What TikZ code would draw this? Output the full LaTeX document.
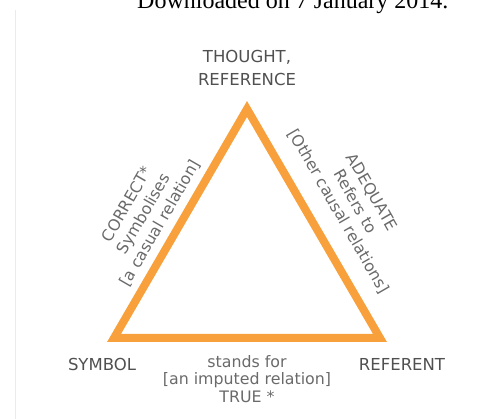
\documentclass[tikz,border=0pt]{standalone}
\usepackage{fontspec}
\setmainfont{DejaVu Sans}
\newfontfamily\seriffont{Liberation Serif}
\definecolor{tri}{RGB}{247,160,60}
\definecolor{txt}{RGB}{80,80,80}
\begin{document}
\begin{tikzpicture}[x=1pt,y=-1pt,
  lbl/.style={text=txt, font=\fontsize{16.5}{23}\selectfont, inner sep=0pt, align=center},
  side/.style={text=txt!85, font=\fontsize{15.8}{17.5}\selectfont, inner sep=0pt, align=center}]
\useasboundingbox (0,0) rectangle (477,419);
\clip (0,0) rectangle (477,419);
\draw[black!8, line width=0.8pt] (15,10) -- (15,419);
\node[font=\seriffont\fontsize{24}{24}\selectfont, anchor=base west, inner sep=0pt] (dl) at (137,9) {Downloaded on 7 January 2014.};
\coordinate (T) at (247,109);
\coordinate (S) at (114,338);
\coordinate (R) at (380,338);
\draw[tri, line width=8pt, line join=miter] (T) -- (S) -- (R) -- cycle;
\node[lbl] (thought) at (247,68) {THOUGHT,\\REFERENCE};
\node[lbl] (symbol) at (102,364) {SYMBOL};
\node[lbl] (referent) at (402,364) {REFERENT};
\node[side] (bottom) at (247,379) {stands for\\{[}an imputed relation{]}\\TRUE *};
\node[side, font=\fontsize{15.8}{19}\selectfont, rotate=60] (left) at (144,214) {CORRECT*\\Symbolises\\{[}a casual relation{]}};
\node[side, font=\fontsize{15.8}{19}\selectfont, rotate=-60] (right) at (355,202) {ADEQUATE\\Refers to\\{[}Other causal relations{]}};
\end{tikzpicture}
\end{document}
